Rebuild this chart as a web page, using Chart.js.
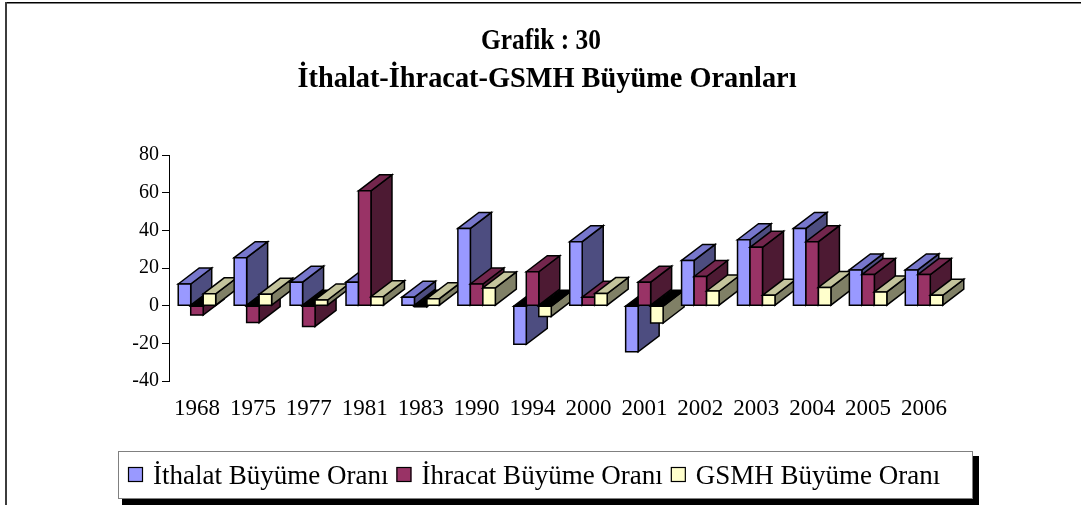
<!DOCTYPE html>
<html>
<head>
<meta charset="utf-8">
<script src="https://cdn.jsdelivr.net/npm/chart.js@4"></script>
<style>
  html, body { margin: 0; padding: 0; background: #fff; }
</style>
</head>
<body>
<canvas id="barChart" width="1081" height="505"></canvas>
<script>
var years = ["1968", "1975", "1977", "1981", "1983", "1990", "1994", "2000", "2001", "2002", "2003", "2004", "2005", "2006"];
var ithalat = [11.5, 25.5, 12.5, 12.5, 4.5, 41, -20.5, 34, -24.5, 24, 35, 41, 19, 19];
var ihracat = [-5, -9, -11, 61, -0.6, 11.5, 18, 4.5, 12.5, 15.5, 31, 34, 16.5, 16.5];
var gsmh = [6.3, 6, 3, 4.8, 3.7, 9.4, -5.7, 6.4, -9.2, 7.8, 5.5, 9.7, 7.3, 5.5];
var seriesNames = ["İthalat Büyüme Oranı", "İhracat Büyüme Oranı", "GSMH Büyüme Oranı"];
var titleLines = ["Grafik : 30", "İthalat-İhracat-GSMH Büyüme Oranları"];
var yTicks = [-40, -20, 0, 20, 40, 60, 80];

// front / top / side colours of each series
var faces = [
  { front: "#9999FF", top: "#7777CC", side: "#4D4D80" },
  { front: "#993366", top: "#73264D", side: "#4D1A33" },
  { front: "#FFFFCC", top: "#C4C49C", side: "#808066" }
];
var depthX = 21, depthY = -16;

function poly(ctx, pts, fill) {
  ctx.beginPath();
  ctx.moveTo(pts[0][0], pts[0][1]);
  for (var i = 1; i < pts.length; i++) ctx.lineTo(pts[i][0], pts[i][1]);
  ctx.closePath();
  ctx.fillStyle = fill;
  ctx.fill();
  ctx.stroke();
}

function drawBar(ctx, el, c) {
  var l = el.x - el.width / 2, r = el.x + el.width / 2;
  var neg = el.y > el.base;
  var top = Math.min(el.y, el.base), bot = Math.max(el.y, el.base);
  poly(ctx, [[r, top], [r + depthX, top + depthY], [r + depthX, bot + depthY], [r, bot]], c.side);
  poly(ctx, [[l, top], [l + depthX, top + depthY], [r + depthX, top + depthY], [r, top]], neg ? "#000" : c.top);
  poly(ctx, [[l, top], [r, top], [r, bot], [l, bot]], c.front);
}

// tall, narrow title text like the original
function stretchedText(ctx, text, cx, baseline, width) {
  var w = ctx.measureText(text).width;
  ctx.save();
  ctx.translate(cx, baseline);
  ctx.scale(width / w, 1);
  ctx.fillText(text, 0, 0);
  ctx.restore();
}

var bars3d = {
  id: "bars3d",
  beforeDatasetsDraw: function (chart) {
    var ctx = chart.ctx;
    ctx.save();
    ctx.lineWidth = 1.5;
    ctx.strokeStyle = "#000";
    ctx.lineJoin = "miter";
    for (var j = 0; j < years.length; j++) {
      for (var d = 0; d < chart.data.datasets.length; d++) {
        drawBar(ctx, chart.getDatasetMeta(d).data[j], faces[d]);
      }
    }
    ctx.restore();
    return false;
  },
  afterDraw: function (chart) {
    var ctx = chart.ctx;
    ctx.save();
    // outer frame (top + left only)
    ctx.fillStyle = "#000";
    ctx.fillRect(5, 2, 1076, 1.5);
    ctx.fillStyle = "#3c3c3c";
    ctx.fillRect(5, 2, 2, 503);

    // title
    ctx.fillStyle = "#000";
    ctx.textAlign = "center";
    ctx.textBaseline = "alphabetic";
    ctx.font = "bold 30px 'Liberation Serif'";
    stretchedText(ctx, titleLines[0], 541, 49, 120);
    stretchedText(ctx, titleLines[1], 547, 87, 499);

    // legend box with shadow
    ctx.fillStyle = "#000";
    ctx.fillRect(973, 456, 6, 49);
    ctx.fillRect(122, 499, 857, 6);
    ctx.fillStyle = "#fff";
    ctx.fillRect(118, 451, 855, 48);
    ctx.strokeStyle = "#808080";
    ctx.lineWidth = 1;
    ctx.strokeRect(118.5, 451.5, 854, 47);

    ctx.font = "27px 'Liberation Serif'";
    ctx.textAlign = "left";
    var x = 128;
    for (var i = 0; i < seriesNames.length; i++) {
      ctx.fillStyle = faces[i].front;
      ctx.fillRect(x, 467, 15, 15);
      ctx.strokeStyle = "#000";
      ctx.lineWidth = 1.2;
      ctx.strokeRect(x + 0.5, 467.5, 14, 14);
      ctx.fillStyle = "#000";
      ctx.fillText(seriesNames[i], x + 25, 484);
      x += 25 + ctx.measureText(seriesNames[i]).width + 8;
    }
    ctx.restore();
  }
};

var ctx = document.getElementById("barChart");

var myChart = new Chart(ctx, {
  type: "bar",
  data: {
    labels: years,
    datasets: [
      { label: seriesNames[0], data: ithalat, backgroundColor: faces[0].front },
      { label: seriesNames[1], data: ihracat, backgroundColor: faces[1].front },
      { label: seriesNames[2], data: gsmh, backgroundColor: faces[2].front }
    ]
  },
  options: {
    responsive: false,
    animation: false,
    layout: { padding: { left: 0, right: 129, top: 155, bottom: 0 } },
    datasets: {
      bar: { barPercentage: 1, categoryPercentage: 0.67 }
    },
    plugins: {
      legend: { display: false },
      tooltip: { enabled: false },
      title: { display: false }
    },
    scales: {
      x: {
        grid: { display: false, drawTicks: false },
        border: { display: false },
        ticks: { color: "#000", padding: 14, maxRotation: 0, font: { family: "'Liberation Serif'", size: 23 } },
        afterFit: function (scale) { scale.height = 124; }
      },
      y: {
        min: yTicks[0],
        max: yTicks[yTicks.length - 1],
        grid: { drawOnChartArea: false, color: "#000", tickLength: 7 },
        border: { display: true, color: "#000", width: 1 },
        ticks: { stepSize: yTicks[1] - yTicks[0], color: "#000", padding: 3, font: { family: "'Liberation Serif'", size: 20 } },
        afterFit: function (scale) { scale.width = 169; }
      }
    }
  },
  plugins: [bars3d]
});
</script>
</body>
</html>
